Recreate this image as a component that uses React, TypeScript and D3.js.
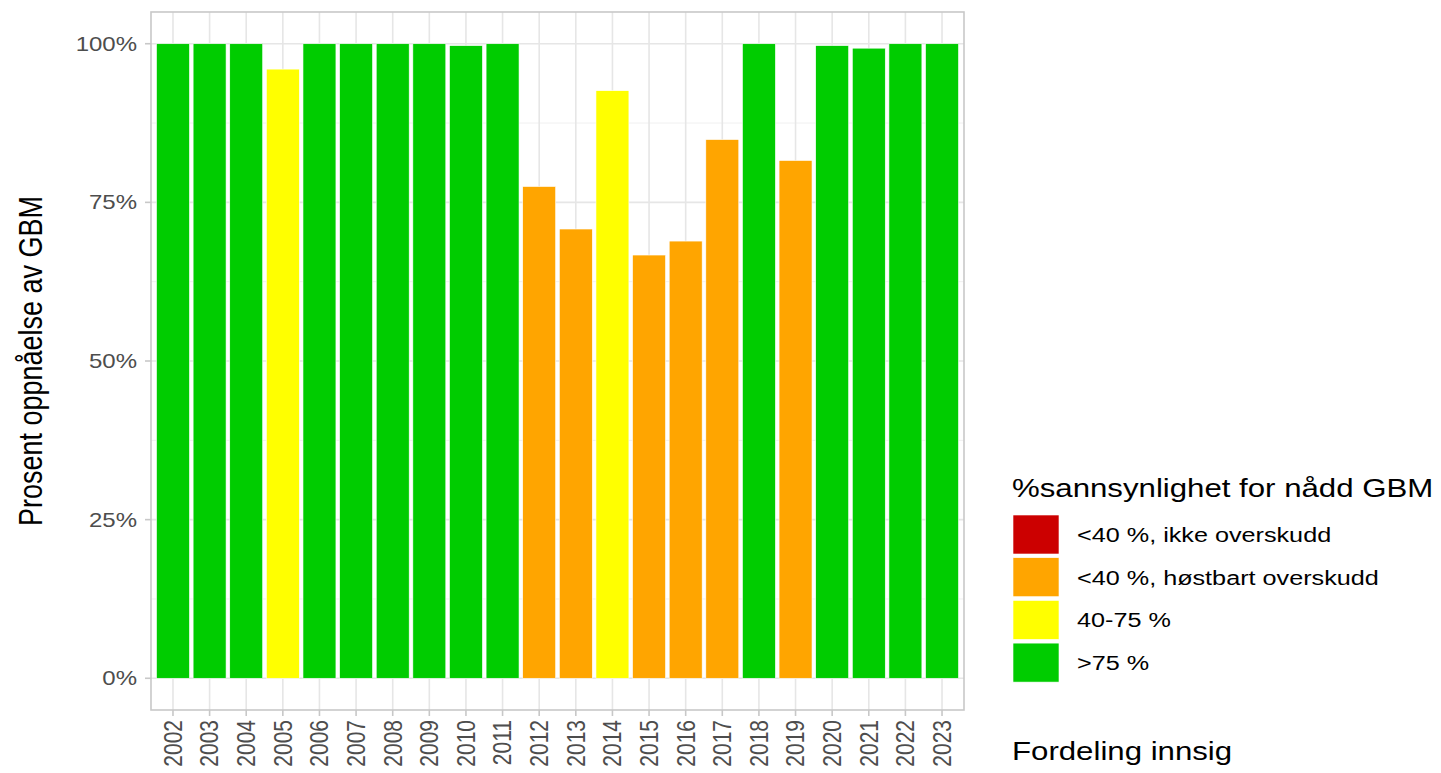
import React from 'react';
import * as d3 from 'd3';

// data
const years = [
  '2002', '2003', '2004', '2005', '2006', '2007', '2008', '2009', '2010', '2011', '2012',
  '2013', '2014', '2015', '2016', '2017', '2018', '2019', '2020', '2021', '2022', '2023'
];
const achieved = [
  1.0, 1.0, 1.0, 0.96, 1.0, 1.0, 1.0, 1.0, 0.997, 1.0, 0.775,
  0.708, 0.926, 0.667, 0.689, 0.849, 1.0, 0.816, 0.997, 0.993, 1.0, 1.0
];
const category = [
  'g', 'g', 'g', 'y', 'g', 'g', 'g', 'g', 'g', 'g', 'o',
  'o', 'y', 'o', 'o', 'o', 'g', 'o', 'g', 'g', 'g', 'g'
];
const legendKeys = ['r', 'o', 'y', 'g'];
const legendLabels = ['<40 %, ikke overskudd', '<40 %, høstbart overskudd', '40-75 %', '>75 %'];
const yTicks = [0, 0.25, 0.5, 0.75, 1];
const yMinor = [0.125, 0.375, 0.625, 0.875];

const colorOf: Record<string, string> = {
  r: '#CC0000',
  o: '#FFA500',
  y: '#FFFF00',
  g: '#00CC00'
};

const W = 1441;
const H = 773;
const panel = { left: 151, right: 964, top: 12, bottom: 710 };
const font = '"Liberation Sans", Arial, sans-serif';
// the reference image is a bit wider than tall, so glyphs are stretched sideways
const SX = 1.2;

export default function App() {
  const x = d3.scaleBand<string>()
    .domain(years)
    .range([panel.left, panel.right])
    .paddingInner(0.1)
    .paddingOuter(0.15);

  const y = d3.scaleLinear()
    .domain([-0.05, 1.05])
    .range([panel.bottom, panel.top]);

  const pct = d3.format('.0%');
  const mid = (yr: string) => x(yr)! + x.bandwidth() / 2;

  return (
    <svg width={W} height={H} style={{ position: 'absolute', left: 0, top: 0, background: '#fff' }}>
      {/* grid */}
      {yMinor.map(v => (
        <line key={'mn' + v} x1={panel.left} x2={panel.right} y1={y(v)} y2={y(v)}
          stroke="#f0f0f0" strokeWidth={1} />
      ))}
      {yTicks.map(v => (
        <line key={'mj' + v} x1={panel.left} x2={panel.right} y1={y(v)} y2={y(v)}
          stroke="#e6e6e6" strokeWidth={1.6} />
      ))}
      {years.map(yr => (
        <line key={'vg' + yr} x1={mid(yr)} x2={mid(yr)}
          y1={panel.top} y2={panel.bottom} stroke="#e6e6e6" strokeWidth={1.6} />
      ))}

      {/* bars */}
      {years.map((yr, i) => (
        <rect key={'b' + yr}
          x={x(yr)}
          y={y(achieved[i])}
          width={x.bandwidth()}
          height={y(0) - y(achieved[i])}
          fill={colorOf[category[i]]}
          stroke="#ffffff"
          strokeWidth={0.6} />
      ))}

      {/* panel border */}
      <rect x={panel.left} y={panel.top} width={panel.right - panel.left} height={panel.bottom - panel.top}
        fill="none" stroke="#c8c8c8" strokeWidth={1.6} />

      {/* y axis */}
      {yTicks.map(v => (
        <g key={'yt' + v}>
          <line x1={panel.left - 6} x2={panel.left} y1={y(v)} y2={y(v)} stroke="#c8c8c8" strokeWidth={1.6} />
          <g transform={`translate(${panel.left - 14},${y(v)}) scale(${SX},1)`}>
            <text dy="0.35em" textAnchor="end"
              fontFamily={font} fontSize={20} fill="#4d4d4d">{pct(v)}</text>
          </g>
        </g>
      ))}

      {/* x axis */}
      {years.map(yr => (
        <g key={'xt' + yr}>
          <line x1={mid(yr)} x2={mid(yr)} y1={panel.bottom} y2={panel.bottom + 6} stroke="#c8c8c8" strokeWidth={1.6} />
          <g transform={`translate(${mid(yr)},${panel.bottom + 10}) rotate(-90) scale(1,${SX})`}>
            <text dy="0.35em" textAnchor="end"
              fontFamily={font} fontSize={21} fill="#4d4d4d">{yr}</text>
          </g>
        </g>
      ))}

      {/* y title */}
      <g transform={`translate(31,${(panel.top + panel.bottom) / 2}) rotate(-90) scale(1,${SX})`}>
        <text dy="0.35em" textAnchor="middle" fontFamily={font} fontSize={27} fill="#000">
          Prosent oppnåelse av GBM
        </text>
      </g>

      {/* legend */}
      <g transform={`translate(1012,497) scale(${SX},1)`}>
        <text fontFamily={font} fontSize={26} fill="#000">%sannsynlighet for nådd GBM</text>
      </g>
      {legendKeys.map((k, i) => (
        <g key={'lg' + k} transform={`translate(1013,${515 + i * 42.7})`}>
          <rect width={46} height={39} fill={colorOf[k]} stroke="#ffffff" strokeWidth={0.6} />
          <g transform={`translate(64,19.5) scale(${SX},1)`}>
            <text dy="0.35em" fontFamily={font} fontSize={21} fill="#000">{legendLabels[i]}</text>
          </g>
        </g>
      ))}
      <g transform={`translate(1012,760) scale(${SX},1)`}>
        <text fontFamily={font} fontSize={26} fill="#000">Fordeling innsig</text>
      </g>
    </svg>
  );
}
